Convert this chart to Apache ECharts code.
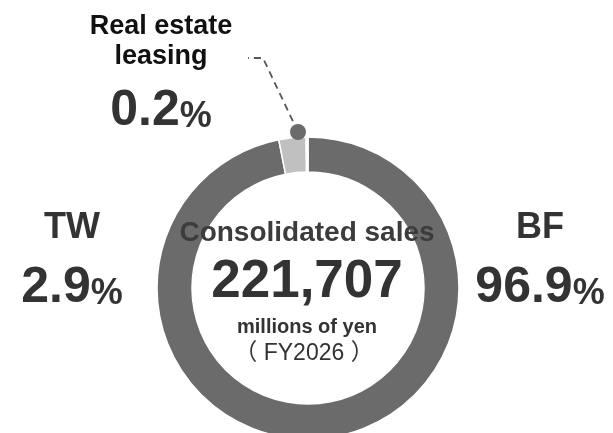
<!DOCTYPE html>
<html>
<head>
<meta charset="utf-8">
<script src="https://cdn.jsdelivr.net/npm/echarts@6/dist/echarts.min.js"></script>
<style>
  html, body { margin: 0; padding: 0; background: #fff; }
  #chart { width: 613px; height: 433px; }
</style>
</head>
<body>
<div id="chart"></div>
<script>
// sales composition, percent of consolidated sales
const categories = ['BF', 'TW', 'Real estate leasing']
const shares = [96.9, 2.9, 0.2]
const labelNames = ['BF', 'TW', 'Real estate\nleasing']
const totalSales = [221707] // millions of yen
const fiscalYear = ['FY2026']

const sliceColors = ['#6b6b6b', '#c0c0c0', '#ffffff']
// where each label block sits (top centre)
const labelPos = [[540, 203], [72, 203], [161, 12]]

const FONT = "'Liberation Sans', Arial, 'Noto Sans CJK JP', sans-serif"
const cx = 308
const cy = 288

const chart = echarts.init(document.getElementById('chart'), null, { renderer: 'canvas' })

const option = {
  animation: false,
  backgroundColor: '#fff',
  series: [
    {
      type: 'pie',
      center: [cx, cy],
      radius: [116, 151],
      startAngle: 90,
      clockwise: true,
      silent: true,
      z: 1,
      avoidLabelOverlap: false,
      itemStyle: { borderColor: '#fff', borderWidth: 1.5 },
      emphasis: { disabled: true },
      label: {
        show: true,
        position: 'outside',
        fontFamily: FONT,
        align: 'center',
        verticalAlign: 'top',
        formatter: function (p) {
          const v = shares[p.dataIndex].toFixed(1)
          if (p.dataIndex === 2) {
            return labelNames[2].split('\n').map(s => '{reName|' + s + '}').join('\n') +
              '\n{reNum|' + v + '}{rePct|%}'
          }
          return '{name|' + labelNames[p.dataIndex] + '}\n{num|' + v + '}{pct|%}'
        },
        rich: {
          name: { fontFamily: FONT, fontSize: 36, fontWeight: 'bold', color: '#333', lineHeight: 50, align: 'center' },
          num: { fontFamily: FONT, fontSize: 50, fontWeight: 'bold', color: '#333', lineHeight: 71, align: 'center' },
          pct: { fontFamily: FONT, fontSize: 36, fontWeight: 'bold', color: '#333', lineHeight: 71, padding: [12, 0, 0, 0], align: 'center' },
          reName: { fontFamily: FONT, fontSize: 27, fontWeight: 'bold', color: '#111', lineHeight: 30, align: 'center' },
          reNum: { fontFamily: FONT, fontSize: 50, fontWeight: 'bold', color: '#333', lineHeight: 79, align: 'center' },
          rePct: { fontFamily: FONT, fontSize: 36, fontWeight: 'bold', color: '#333', lineHeight: 79, padding: [12, 0, 0, 0], align: 'center' }
        }
      },
      labelLine: { show: false },
      labelLayout: function (params) {
        const pos = labelPos[params.dataIndex]
        return { x: pos[0], y: pos[1], align: 'center', verticalAlign: 'top' }
      },
      data: categories.map((c, i) => ({
        name: c,
        value: shares[i],
        itemStyle: { color: sliceColors[i] }
      }))
    }
  ],
  graphic: [
    // leader line for the small slice
    {
      type: 'polyline',
      z: 10,
      shape: { points: [[298, 132], [263, 58], [248, 58]] },
      style: { stroke: '#555', lineWidth: 1.8, lineDash: [7, 5], fill: null },
      silent: true
    },
    {
      type: 'circle',
      z: 10,
      shape: { cx: 298, cy: 132, r: 8 },
      style: { fill: '#6b6b6b' },
      silent: true
    },
    {
      type: 'text',
      z: 10,
      x: cx - 1, y: 233,
      style: { text: 'Consolidated sales', font: 'bold 28px ' + FONT, fill: '#3c3c3c', align: 'center', verticalAlign: 'middle' },
      silent: true
    },
    {
      type: 'text',
      z: 10,
      x: cx - 1, y: 282,
      style: { text: totalSales[0].toLocaleString('en-US'), font: 'bold 53px ' + FONT, fill: '#333', align: 'center', verticalAlign: 'middle' },
      silent: true
    },
    {
      type: 'text',
      z: 10,
      x: cx - 1, y: 327,
      style: { text: 'millions of yen', font: 'bold 20px ' + FONT, fill: '#333', align: 'center', verticalAlign: 'middle' },
      silent: true
    },
    {
      type: 'text',
      z: 10,
      x: cx - 4, y: 354,
      style: { text: '（ ' + fiscalYear[0] + ' ）', font: 'normal 23px ' + FONT, fill: '#333', align: 'center', verticalAlign: 'middle' },
      silent: true
    }
  ]
}

chart.setOption(option)

window.addEventListener('resize', () => {
  chart.resize()
})
</script>
</body>
</html>
